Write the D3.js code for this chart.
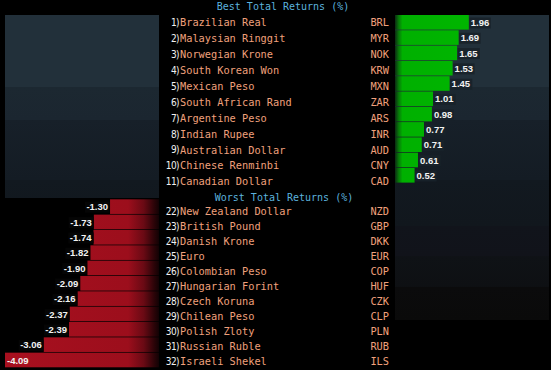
<!DOCTYPE html>
<html>
<head>
<meta charset="utf-8">
<script src="https://cdn.jsdelivr.net/npm/d3@7"></script>
<style>
  body { margin: 0; background: #000; }
  svg { display: block; }
</style>
</head>
<body>
<div class="chart"></div>
<script>
const width = 551
const height = 370

// data
const bestRanks = ['1)', '2)', '3)', '4)', '5)', '6)', '7)', '8)', '9)', '10)', '11)']
const bestNames = ['Brazilian Real', 'Malaysian Ringgit', 'Norwegian Krone', 'South Korean Won', 'Mexican Peso',
    'South African Rand', 'Argentine Peso', 'Indian Rupee', 'Australian Dollar', 'Chinese Renminbi', 'Canadian Dollar']
const bestCodes = ['BRL', 'MYR', 'NOK', 'KRW', 'MXN', 'ZAR', 'ARS', 'INR', 'AUD', 'CNY', 'CAD']
const bestValues = [1.96, 1.69, 1.65, 1.53, 1.45, 1.01, 0.98, 0.77, 0.71, 0.61, 0.52]

const worstRanks = ['22)', '23)', '24)', '25)', '26)', '27)', '28)', '29)', '30)', '31)', '32)']
const worstNames = ['New Zealand Dollar', 'British Pound', 'Danish Krone', 'Euro', 'Colombian Peso',
    'Hungarian Forint', 'Czech Koruna', 'Chilean Peso', 'Polish Zloty', 'Russian Ruble', 'Israeli Shekel']
const worstCodes = ['NZD', 'GBP', 'DKK', 'EUR', 'COP', 'HUF', 'CZK', 'CLP', 'PLN', 'RUB', 'ILS']
const worstValues = [-1.30, -1.73, -1.74, -1.82, -1.90, -2.09, -2.16, -2.37, -2.39, -3.06, -4.09]

const titles = ['Best Total Returns (%)', 'Worst Total Returns (%)']

const monoFont = '"DejaVu Sans Mono", monospace'
const labelFont = '"Liberation Sans", Arial, sans-serif'

const svg = d3.select('.chart')
    .append('svg')
    .attr('width', width)
    .attr('height', height)

svg.append('rect').attr('width', width).attr('height', height).attr('fill', '#000')

const defs = svg.append('defs')

// stepped background shading of the side panels
const bgStops = [
    [0, '#22303a'], [0.235, '#22303a'], [0.237, '#1c2831'], [0.343, '#1b2630'], [0.345, '#172029'],
    [0.54, '#141c24'], [0.542, '#121920'], [0.69, '#11171d'], [0.692, '#11141b'], [0.79, '#11131a'],
    [0.792, '#0f1216'], [0.89, '#0e1013'], [0.892, '#0b0b0c'], [1, '#0a0a0a']
]
const bgGrad = defs.append('linearGradient')
    .attr('id', 'bg')
    .attr('gradientUnits', 'userSpaceOnUse')
    .attr('x1', 0).attr('y1', 15).attr('x2', 0).attr('y2', 320)
bgGrad.selectAll('stop').data(bgStops).enter().append('stop')
    .attr('offset', d => d[0]).attr('stop-color', d => d[1])

// left panel (above the red bars)
svg.append('rect')
    .attr('x', 5).attr('y', 15).attr('width', 154).attr('height', 183)
    .attr('fill', 'url(#bg)')
// right panel
svg.append('rect')
    .attr('x', 395).attr('y', 15).attr('width', 154).attr('height', 305)
    .attr('fill', 'url(#bg)')

// bar gradients
const greenGrad = defs.append('linearGradient')
    .attr('id', 'green')
    .attr('gradientUnits', 'userSpaceOnUse')
    .attr('x1', 395).attr('y1', 0).attr('x2', 470).attr('y2', 0)
greenGrad.selectAll('stop')
    .data([[0, '#0b2a12'], [0.05, '#087a0a'], [0.1, '#00b000'], [1, '#00b600']])
    .enter().append('stop')
    .attr('offset', d => d[0]).attr('stop-color', d => d[1])

const redGrad = defs.append('linearGradient')
    .attr('id', 'red')
    .attr('gradientUnits', 'userSpaceOnUse')
    .attr('x1', 5).attr('y1', 0).attr('x2', 159).attr('y2', 0)
redGrad.selectAll('stop')
    .data([[0, '#a8101f'], [0.8, '#9c0e1c'], [0.9, '#6a0a14'], [0.97, '#2a0408'], [1, '#120204']])
    .enter().append('stop')
    .attr('offset', d => d[0]).attr('stop-color', d => d[1])

// scales
const xScale = d3.scaleLinear().domain([0, 4.09]).range([0, 154])

const bestBarY = d3.scaleBand().domain(bestCodes).range([15, 183.3])
const worstBarY = d3.scaleBand().domain(worstCodes).range([199.3, 368])
const bestTextY = d3.scalePoint().domain(bestCodes).range([22.7, 181.7])
const worstTextY = d3.scalePoint().domain(worstCodes).range([211.7, 361.7])

const best = bestCodes.map((c, i) => ({ code: c, name: bestNames[i], rank: bestRanks[i], value: bestValues[i] }))
const worst = worstCodes.map((c, i) => ({ code: c, name: worstNames[i], rank: worstRanks[i], value: worstValues[i] }))

// green bars grow right from x=395
const greenX0 = 395
svg.selectAll('.bestBar')
    .data(best)
    .enter()
    .append('rect')
    .attr('class', 'bestBar')
    .attr('x', greenX0)
    .attr('y', d => bestBarY(d.code))
    .attr('width', d => xScale(d.value))
    .attr('height', bestBarY.bandwidth() - 0.7)
    .attr('fill', 'url(#green)')

// red bars grow left from x=159
const redX0 = 159
svg.selectAll('.worstBar')
    .data(worst)
    .enter()
    .append('rect')
    .attr('class', 'worstBar')
    .attr('x', d => redX0 - xScale(-d.value))
    .attr('y', d => worstBarY(d.code))
    .attr('width', d => xScale(-d.value))
    .attr('height', worstBarY.bandwidth() - 0.7)
    .attr('fill', 'url(#red)')

// value labels with a dark box behind (plain hyphen as minus)
const fmt = d3.formatLocale({ decimal: '.', thousands: ',', grouping: [3], currency: ['', ''], minus: '-' }).format('.2f')
const valueLabel = (sel, data, yScale, side) => {
    const g = sel.selectAll('.v' + side)
        .data(data)
        .enter()
        .append('g')
        .attr('class', 'v' + side)
    g.append('text')
        .attr('x', d => side === 'r' ? greenX0 + xScale(d.value) + 2 : redX0 - xScale(-d.value) - 2)
        .attr('y', d => yScale(d.code) + yScale.bandwidth() / 2)
        .attr('dy', '0.35em')
        .attr('text-anchor', side === 'r' ? 'start' : 'end')
        .attr('fill', '#f2f2f2')
        .attr('font-family', labelFont)
        .attr('font-size', 9.5)
        .attr('font-weight', 'bold')
        .text(d => fmt(d.value))
        .each(function (d) {
            let inside = false
            let b = this.getBBox()
            // no room left of the bar: put the label inside it
            if (side === 'l' && b.x < 5) {
                d3.select(this)
                    .attr('x', redX0 - xScale(-d.value) + 2)
                    .attr('text-anchor', 'start')
                b = this.getBBox()
                inside = true
            }
            if (inside) return
            d3.select(this.parentNode).insert('rect', 'text')
                .attr('x', b.x - 1.5)
                .attr('y', b.y + 0.5)
                .attr('width', b.width + 3)
                .attr('height', b.height)
                .attr('fill', side === 'r' ? '#18222a' : '#050505')
                .attr('opacity', 0.9)
        })
}
valueLabel(svg, best, bestBarY, 'r')
valueLabel(svg, worst, worstBarY, 'l')

// titles
svg.append('text')
    .attr('x', 283).attr('y', 6).attr('dy', '0.35em')
    .attr('text-anchor', 'middle')
    .attr('fill', '#5cb2de')
    .attr('font-family', monoFont).attr('font-size', 10)
    .text(titles[0])
svg.append('text')
    .attr('x', 284).attr('y', 197).attr('dy', '0.35em')
    .attr('text-anchor', 'middle')
    .attr('fill', '#5cb2de')
    .attr('font-family', monoFont).attr('font-size', 10)
    .text(titles[1])

// rows of ranks, names and codes
const rows = (data, yScale, cls) => {
    const g = svg.selectAll('.' + cls)
        .data(data)
        .enter()
        .append('g')
        .attr('class', cls)
        .attr('transform', d => `translate(0,${yScale(d.code)})`)
    g.append('text')
        .attr('x', 179).attr('dy', '0.35em')
        .attr('text-anchor', 'end')
        .attr('fill', '#f0f0f0')
        .attr('font-family', '"DejaVu Sans Condensed", sans-serif')
        .attr('font-size', 10)
        .attr('letter-spacing', -0.6)
        .text(d => d.rank)
    g.append('text')
        .attr('x', 180).attr('dy', '0.35em')
        .attr('fill', '#f0a07c')
        .attr('font-family', monoFont)
        .attr('font-size', 10.3)
        .text(d => d.name)
    g.append('text')
        .attr('x', 389).attr('dy', '0.35em')
        .attr('text-anchor', 'end')
        .attr('fill', '#f0a07c')
        .attr('font-family', monoFont)
        .attr('font-size', 10.3)
        .text(d => d.code)
}
rows(best, bestTextY, 'bestRow')
rows(worst, worstTextY, 'worstRow')
</script>
</body>
</html>
